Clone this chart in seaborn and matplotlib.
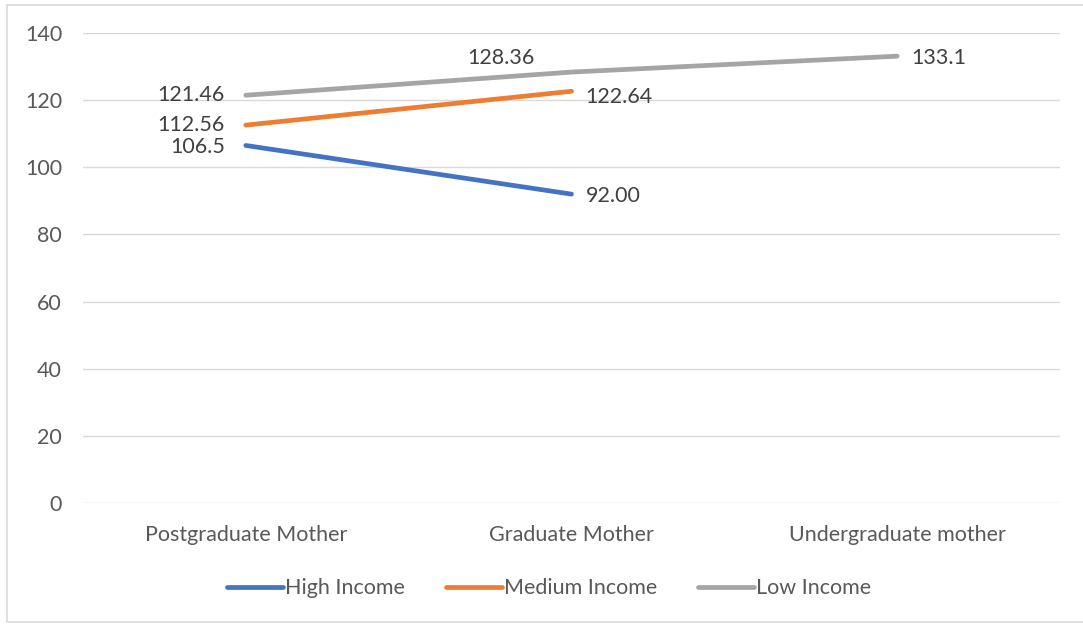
import numpy as np
import pandas as pd
import matplotlib.pyplot as plt
import seaborn as sns
from matplotlib.patches import Rectangle

categories = ["Postgraduate Mother", "Graduate Mother", "Undergraduate mother"]
high_income = [106.5, 92.00]
medium_income = [112.56, 122.64]
low_income = [121.46, 128.36, 133.1]
high_labels = ["106.5", "92.00"]
medium_labels = ["112.56", "122.64"]
low_labels = ["121.46", "128.36", "133.1"]

rows = []
for name, vals in [("High Income", high_income), ("Medium Income", medium_income), ("Low Income", low_income)]:
    for i, v in enumerate(vals):
        rows.append({"cat": i, "value": v, "series": name})
df = pd.DataFrame(rows)

sns.set_style("white")
plt.rcParams['font.family'] = ['Lato', 'DejaVu Sans']

fig = plt.figure(figsize=(10.83, 6.25), dpi=100)
ax = fig.add_axes([0.0766, 0.1952, 0.9022, 0.752])

palette = {"High Income": "#4472C4", "Medium Income": "#ED7D31", "Low Income": "#A5A5A5"}
sns.lineplot(data=df, x="cat", y="value", hue="series", palette=palette,
             linewidth=3.4, ax=ax, legend=False, solid_capstyle="round")

fs = 15.5
ax.set_xlim(-0.5, 2.5)
ax.set_ylim(0, 140)
ax.set_yticks(range(0, 141, 20))
ax.set_xticks(range(3))
ax.set_xticklabels(categories)
ax.grid(axis="y", color="#D9D9D9", linewidth=1)
ax.set_axisbelow(True)
for s in ax.spines.values():
    s.set_visible(False)
ax.tick_params(axis="both", length=0, labelsize=fs, labelcolor="#595959")
ax.tick_params(axis="x", pad=16)
ax.tick_params(axis="y", pad=15)
ax.set_xlabel("")
ax.set_ylabel("")

tc = "#404040"
# data labels
ax.annotate(low_labels[0], (0, low_income[0]), xytext=(-15, 0), textcoords="offset points", ha="right", va="center", fontsize=fs, color=tc)
ax.annotate(medium_labels[0], (0, medium_income[0]), xytext=(-15, 0), textcoords="offset points", ha="right", va="center", fontsize=fs, color=tc)
ax.annotate(high_labels[0], (0, high_income[0]), xytext=(-15, -1), textcoords="offset points", ha="right", va="center", fontsize=fs, color=tc)
ax.annotate(low_labels[1], (1, low_income[1]), xytext=(-51, 10), textcoords="offset points", ha="center", va="center", fontsize=fs, color=tc)
ax.annotate(medium_labels[1], (1, medium_income[1]), xytext=(10, -4), textcoords="offset points", ha="left", va="center", fontsize=fs, color=tc)
ax.annotate(high_labels[1], (1, high_income[1]), xytext=(10, -1), textcoords="offset points", ha="left", va="center", fontsize=fs, color=tc)
ax.annotate(low_labels[2], (2, low_income[2]), xytext=(10, -1), textcoords="offset points", ha="left", va="center", fontsize=fs, color=tc)

handles = [plt.Line2D([], [], color=palette[k], linewidth=3.4, solid_capstyle="round") for k in palette]
leg = fig.legend(handles, list(palette.keys()), loc="center", bbox_to_anchor=(0.507, 0.059), ncol=3,
                 frameon=False, fontsize=fs, handlelength=2.6, handletextpad=0.1, columnspacing=1.9)
for t in leg.get_texts():
    t.set_color("#595959")

fig.patches.append(Rectangle((7 / 1083, 3 / 625), 1.1, 1 - 8 / 625, transform=fig.transFigure,
                             fill=False, edgecolor="#D9D9D9", linewidth=1.2))

fig.savefig("out.png", dpi=100)
